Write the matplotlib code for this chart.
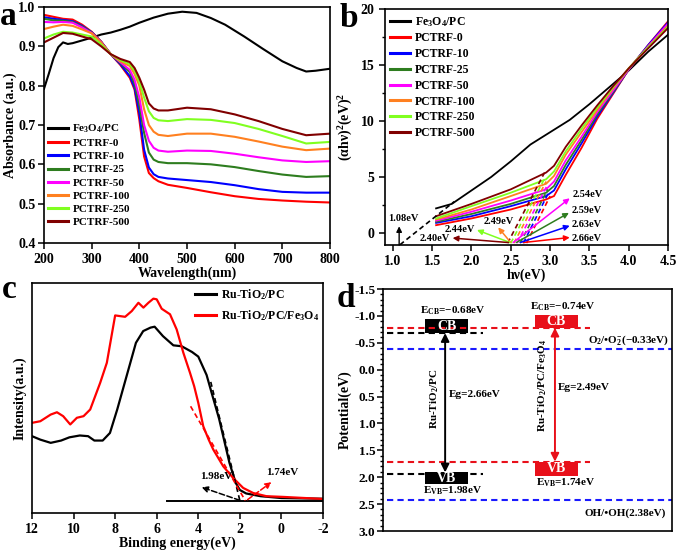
import numpy as np
import matplotlib
matplotlib.use("Agg")
import matplotlib.pyplot as plt
from matplotlib.ticker import AutoMinorLocator, MultipleLocator

plt.rcParams['font.family'] = ['Liberation Serif', 'DejaVu Serif']
plt.rcParams['font.weight'] = 'bold'
plt.rcParams['axes.labelweight'] = 'bold'
plt.rcParams['axes.unicode_minus'] = False
plt.rcParams['mathtext.fontset'] = 'custom'
plt.rcParams['mathtext.rm'] = 'Liberation Serif:bold'
plt.rcParams['mathtext.it'] = 'Liberation Serif:italic:bold'
plt.rcParams['mathtext.bf'] = 'Liberation Serif:bold'
plt.rcParams['xtick.labelsize'] = 10
plt.rcParams['ytick.labelsize'] = 10
plt.rcParams['axes.linewidth'] = 1.2

# ---------------- data: panel a (UV-vis) ----------------
sample_names = ['PCTRF-0', 'PCTRF-10', 'PCTRF-25', 'PCTRF-50',
                'PCTRF-100', 'PCTRF-250', 'PCTRF-500']
sample_colors = ['#ff0000', '#0000ff', '#2e7d1f', '#ff00ff',
                 '#ff8020', '#80ff20', '#800000']

fe_wl = [200, 210, 220, 230, 240, 250, 260, 280, 300, 320, 340, 360, 380, 400,
         430, 460, 490, 520, 550, 580, 620, 660, 700, 730, 750, 770, 800]
fe_abs = [0.792, 0.830, 0.870, 0.898, 0.910, 0.906, 0.908, 0.915, 0.922, 0.930,
          0.935, 0.942, 0.950, 0.960, 0.973, 0.983, 0.988, 0.985, 0.972, 0.955,
          0.925, 0.893, 0.862, 0.845, 0.836, 0.838, 0.843]

wl = [200, 220, 240, 260, 280, 300, 320, 340, 360, 380, 390, 400, 410, 420,
      430, 440, 460, 500, 550, 600, 650, 700, 750, 800]
abs_0 = [0.980, 0.975, 0.970, 0.968, 0.955, 0.937, 0.912, 0.880, 0.853, 0.820, 0.790, 0.714,
         0.620, 0.578, 0.565, 0.557, 0.548, 0.540, 0.529, 0.519, 0.512, 0.508, 0.505, 0.503]
abs_10 = [0.974, 0.970, 0.967, 0.964, 0.952, 0.936, 0.911, 0.880, 0.855, 0.824, 0.795, 0.730,
          0.637, 0.592, 0.575, 0.568, 0.564, 0.560, 0.555, 0.547, 0.537, 0.530, 0.528, 0.528]
abs_25 = [0.970, 0.966, 0.965, 0.962, 0.950, 0.935, 0.911, 0.880, 0.858, 0.835, 0.805, 0.750,
          0.680, 0.630, 0.612, 0.606, 0.603, 0.603, 0.600, 0.593, 0.583, 0.574, 0.568, 0.570]
abs_50 = [0.962, 0.961, 0.962, 0.960, 0.948, 0.934, 0.910, 0.880, 0.860, 0.840, 0.815, 0.770,
          0.700, 0.660, 0.642, 0.635, 0.632, 0.635, 0.634, 0.627, 0.618, 0.610, 0.606, 0.608]
abs_100 = [0.944, 0.950, 0.955, 0.952, 0.943, 0.933, 0.909, 0.880, 0.862, 0.850, 0.830, 0.800,
           0.740, 0.700, 0.683, 0.675, 0.672, 0.678, 0.678, 0.670, 0.658, 0.645, 0.636, 0.640]
abs_250 = [0.920, 0.930, 0.937, 0.935, 0.930, 0.925, 0.905, 0.880, 0.865, 0.855, 0.838, 0.810,
           0.770, 0.735, 0.718, 0.712, 0.710, 0.715, 0.713, 0.705, 0.690, 0.672, 0.653, 0.657]
abs_500 = [0.910, 0.922, 0.934, 0.932, 0.925, 0.918, 0.900, 0.880, 0.868, 0.860, 0.845, 0.820,
           0.790, 0.755, 0.742, 0.737, 0.737, 0.744, 0.740, 0.727, 0.710, 0.690, 0.674, 0.678]
abs_curves = [abs_0, abs_10, abs_25, abs_50, abs_100, abs_250, abs_500]

# ---------------- data: panel b (Tauc plot) ----------------
fe_hv = [1.55, 1.75, 2.0, 2.25, 2.5, 2.75, 3.0, 3.25, 3.5, 3.75, 4.0, 4.25, 4.5]
fe_tauc = [2.2, 2.6, 3.8, 5.0, 6.4, 7.9, 9.0, 10.1, 11.5, 13.0, 14.5, 16.2, 17.7]

hv = [1.55, 2.0, 2.5, 2.95, 3.05, 3.2, 3.4, 3.6, 3.8, 4.0, 4.25, 4.5]
tauc_0 = [0.7, 1.3, 2.1, 3.0, 3.3, 5.2, 7.6, 10.2, 12.4, 14.6, 16.8, 18.9]
tauc_10 = [0.9, 1.5, 2.4, 3.3, 3.8, 5.7, 8.0, 10.4, 12.5, 14.6, 16.8, 18.8]
tauc_25 = [1.0, 1.7, 2.6, 3.6, 4.2, 6.1, 8.3, 10.6, 12.6, 14.6, 16.7, 18.6]
tauc_50 = [1.1, 1.9, 2.9, 3.9, 4.6, 6.5, 8.6, 10.8, 12.7, 14.6, 16.7, 18.7]
tauc_100 = [1.2, 2.1, 3.3, 4.4, 5.1, 7.0, 9.0, 11.0, 12.9, 14.7, 16.6, 18.5]
tauc_250 = [1.3, 2.4, 3.6, 4.8, 5.5, 7.3, 9.3, 11.2, 13.0, 14.7, 16.6, 18.4]
tauc_500 = [1.5, 2.6, 3.9, 5.4, 6.0, 7.7, 9.6, 11.4, 13.1, 14.7, 16.5, 18.3]
tauc_curves = [tauc_0, tauc_10, tauc_25, tauc_50, tauc_100, tauc_250, tauc_500]

# extrapolated tangents (bottom x, top x, top y)
tan_x0 = [2.70, 2.66, 2.62, 2.58, 2.54, 2.50, 2.46]
tan_x1 = [3.00, 2.98, 2.97, 2.96, 2.95, 2.94, 2.93]
tan_y1 = [3.3, 3.6, 3.9, 4.2, 4.6, 5.0, 5.4]
fe_tan_x = [1.09, 1.78]
fe_tan_y = [-1.05, 2.8]

gap_labels = ['2.66eV', '2.63eV', '2.59eV', '2.54eV', '2.49eV', '2.44eV', '2.40eV']
arrow_from_x = [2.66, 2.62, 2.57, 2.53, 2.50, 2.49, 2.47]
arrow_tip_x = [3.25, 3.25, 3.24, 3.25, 2.34, 2.07, 1.76]
arrow_tip_y = [-0.40, 0.65, 1.80, 3.10, 0.50, 0.27, -0.45]
label_x = [3.27, 3.27, 3.28, 3.29, 2.35, 2.05, 1.72]
label_y = [-0.45, 0.80, 2.00, 3.40, 1.05, 0.27, -0.45]

# ---------------- data: panel c (VB-XPS) ----------------
c_black_x = [12, 11.6, 11.1, 10.6, 10.2, 9.7, 9.3, 9.0, 8.6, 8.25, 7.9, 7.45, 7.0, 6.65, 6.3,
             6.1, 5.7, 5.2, 4.8, 4.3, 4.0, 3.6, 3.35, 3.0, 2.5, 2.2, 2.0, 1.7, 1.0, 0.0, -2]
c_black_y = [0.334, 0.319, 0.305, 0.315, 0.329, 0.337, 0.334, 0.315, 0.315, 0.348, 0.450,
             0.595, 0.740, 0.791, 0.806, 0.810, 0.769, 0.729, 0.725, 0.700, 0.680, 0.600,
             0.520, 0.410, 0.218, 0.131, 0.100, 0.085, 0.073, 0.065, 0.062]
c_red_x = [12, 11.6, 11.1, 10.8, 10.5, 10.16, 9.84, 9.52, 9.2, 8.72, 8.4, 8.0, 7.52, 7.2,
           6.88, 6.64, 6.4, 6.16, 6.0, 5.76, 5.36, 5.04, 4.72, 4.4, 4.2, 4.0, 3.76, 3.5,
           3.28, 2.8, 2.32, 1.84, 1.36, 0.72, -0.08, -2]
c_red_y = [0.392, 0.399, 0.428, 0.438, 0.421, 0.385, 0.414, 0.421, 0.450, 0.566, 0.653,
           0.859, 0.853, 0.878, 0.914, 0.893, 0.914, 0.932, 0.929, 0.888, 0.864, 0.798,
           0.697, 0.610, 0.552, 0.479, 0.377, 0.319, 0.276, 0.203, 0.152, 0.109, 0.087,
           0.073, 0.070, 0.061]
c_base_x = [5.52, -2]
c_base_y = [0.054, 0.054]
c_tan_black_x = [3.4, 2.0]
c_tan_black_y = [0.57, 0.054]
c_tan_red_x = [4.37, 1.74]
c_tan_red_y = [0.464, 0.054]

# ---------------- data: panel d (band structure) ----------------
band_x = [2.2, 6.0]
band_colors = ['black', '#e8101a']
cb_top = [-0.94, -1.01]
cb_bot = [-0.68, -0.78]
vb_top = [1.91, 1.71]
vb_bot = [2.13, 1.97]
cb_level = [-0.68, -0.77]
vb_level = [1.94, 1.71]
level_x_end = [3.46, 7.16]
redox_levels = [-0.39, 2.42]
ecb_labels = [r'E$_{\rm CB}$=$-$0.68eV', r'E$_{\rm CB}$=$-$0.74eV']
evb_labels = [r'E$_{\rm VB}$=1.98eV', r'E$_{\rm VB}$=1.74eV']
eg_labels = ['Eg=2.66eV', 'Eg=2.49eV']
mat_labels = [r'Ru-TiO$_2$/PC', r'Ru-TiO$_2$/PC/Fe$_3$O$_4$']

W, H = 680, 552
fig = plt.figure(figsize=(W / 100, H / 100), dpi=100)


def px_axes(left, top, right, bottom):
    return fig.add_axes([left / W, 1 - bottom / H, (right - left) / W, (bottom - top) / H])


tick_kw = dict(direction='out', width=1.1, length=4)

# ================= panel a =================
ax = px_axes(44, 7, 330, 243)
ax.plot(fe_wl, fe_abs, color='black', lw=1.5, label=r'Fe$_3$O$_4$/PC')
for name, col, y in zip(sample_names, sample_colors, abs_curves):
    ax.plot(wl, y, color=col, lw=1.5, label=name)
ax.set_xlim(200, 800)
ax.set_ylim(0.4, 1.0)
ax.set_xticks(range(200, 801, 100))
ax.set_yticks(np.arange(0.4, 1.01, 0.1))
ax.yaxis.set_major_formatter(plt.FormatStrFormatter('%.1f'))
ax.tick_params(**tick_kw)
ax.tick_params(axis='y', pad=2)
ax.set_xlabel('Wavelength(nm)', fontsize=10, labelpad=0)
ax.set_ylabel('Absorbance (a.u.)', fontsize=10, labelpad=1)
ax.legend(loc='upper left', bbox_to_anchor=(0.014, 0.51), frameon=False, fontsize=8,
          handlelength=1.8, handletextpad=0.4, labelspacing=0.3, borderpad=0,
          borderaxespad=0)
for lh in ax.get_legend().get_lines():
    lh.set_linewidth(2.2)

# ================= panel b =================
ax = px_axes(385, 9, 668, 245)
ax.plot(fe_hv, fe_tauc, color='black', lw=1.3, label=r'Fe$_3$O$_4$/PC')
for name, col, y in zip(sample_names, sample_colors, tauc_curves):
    ax.plot(hv, y, color=col, lw=1.3, label=name)
ax.plot(fe_tan_x, fe_tan_y, color='black', lw=1.2, ls=(0, (3, 2)))
for i, col in enumerate(sample_colors):
    ax.plot([tan_x0[i], tan_x1[i]], [-0.9, tan_y1[i]], color=col, lw=1.2, ls=(0, (3, 2)))
    ax.annotate('', xy=(arrow_tip_x[i], arrow_tip_y[i]), xytext=(arrow_from_x[i], -0.85),
                arrowprops=dict(arrowstyle='-|>', color=col, lw=1.1, mutation_scale=8,
                                shrinkA=0, shrinkB=0))
    if arrow_tip_x[i] > 3:
        ha = 'left'
    elif i == 4:
        ha = 'center'
    else:
        ha = 'right'
    ax.text(label_x[i], label_y[i], gap_labels[i], fontsize=7.5, ha=ha, va='center')
ax.annotate('', xy=(1.08, 0.6), xytext=(1.08, -1.07),
            arrowprops=dict(arrowstyle='-|>', color='black', lw=1.0, mutation_scale=8,
                            shrinkA=0, shrinkB=0))
ax.text(1.13, 1.3, '1.08eV', fontsize=7.5, ha='center', va='center')
ax.set_xlim(0.9, 4.5)
ax.set_ylim(-1.07, 20)
ax.set_xticks(np.arange(1.0, 4.51, 0.5))
ax.set_yticks([0, 5, 10, 15, 20])
ax.xaxis.set_major_formatter(plt.FormatStrFormatter('%.1f'))
ax.yaxis.set_minor_locator(MultipleLocator(2.5))
ax.tick_params(**tick_kw)
ax.tick_params(which='minor', direction='out', width=1.0, length=2.5)
ax.set_xlabel('hν(eV)', fontsize=10, labelpad=0)
ax.set_ylabel('(αhν)$^{2}$(eV)$^{2}$', fontsize=10, labelpad=4)
ax.legend(loc='upper left', bbox_to_anchor=(0.018, 0.975), frameon=False, fontsize=8.5,
          handlelength=1.7, handletextpad=0.4, labelspacing=0.32, borderpad=0,
          borderaxespad=0)
for lh in ax.get_legend().get_lines():
    lh.set_linewidth(2.2)

# ================= panel c =================
ax = px_axes(32, 283, 323, 513)
ax.plot(c_black_x, c_black_y, color='black', lw=1.6, label=r'Ru-TiO$_2$/PC')
ax.plot(c_red_x, c_red_y, color='#ff0000', lw=1.6, label=r'Ru-TiO$_2$/PC/Fe$_3$O$_4$')
ax.plot(c_base_x, c_base_y, color='black', lw=1.4)
ax.plot(c_tan_black_x, c_tan_black_y, color='black', lw=1.2, ls=(0, (3, 2)))
ax.plot(c_tan_red_x, c_tan_red_y, color='#ff0000', lw=1.2, ls=(0, (3, 2)))
ax.annotate('', xy=(3.84, 0.112), xytext=(2.0, 0.055),
            arrowprops=dict(arrowstyle='-|>', color='black', lw=1.1, ls='--',
                            mutation_scale=9, shrinkA=0, shrinkB=0))
ax.annotate('', xy=(0.48, 0.134), xytext=(1.63, 0.058),
            arrowprops=dict(arrowstyle='-|>', color='#ff0000', lw=1.1, ls='--',
                            mutation_scale=9, shrinkA=0, shrinkB=0))
ax.text(3.15, 0.158, '1.98eV', fontsize=8, ha='center', va='center')
ax.text(-0.05, 0.175, '1.74eV', fontsize=8, ha='center', va='center')
ax.set_xlim(12, -2)
ax.set_ylim(0, 1)
ax.set_xticks(range(12, -3, -2))
ax.set_yticks([])
ax.tick_params(**tick_kw)
ax.set_xlabel('Binding energy(eV)', fontsize=10, labelpad=0)
ax.set_ylabel('Intensity(a.u.)', fontsize=10, labelpad=4)
ax.legend(loc='upper left', bbox_to_anchor=(0.56, 0.98), frameon=False, fontsize=8.5,
          handlelength=1.8, handletextpad=0.4, labelspacing=0.45, borderpad=0,
          borderaxespad=0)
for lh in ax.get_legend().get_lines():
    lh.set_linewidth(2.2)

# ================= panel d =================
ax = px_axes(383, 289, 672, 531)
for i, col in enumerate(band_colors):
    ax.plot([0.14, level_x_end[i]], [cb_level[i], cb_level[i]], color=col, lw=1.5,
            ls=(0, (3, 2)))
    ax.plot([0.14, level_x_end[i]], [vb_level[i], vb_level[i]], color=col, lw=1.5,
            ls=(0, (3, 2)))
for lv in redox_levels:
    ax.plot([0.14, 10], [lv, lv], color='#1a1aff', lw=1.5, ls=(0, (3, 2)))
ax.bar(band_x, np.subtract(cb_bot, cb_top), bottom=cb_top, width=1.5, color=band_colors)
ax.bar(band_x, np.subtract(vb_bot, vb_top), bottom=vb_top, width=1.5, color=band_colors)
for i, col in enumerate(band_colors):
    ax.text(band_x[i], (cb_top[i] + cb_bot[i]) / 2, 'CB', color='white', fontsize=10,
            ha='center', va='center')
    ax.text(band_x[i], (vb_top[i] + vb_bot[i]) / 2, 'VB', color='white', fontsize=10,
            ha='center', va='center')
    ax.annotate('', xy=(band_x[i] - 0.05, vb_top[i]), xytext=(band_x[i] - 0.05, cb_bot[i]),
                arrowprops=dict(arrowstyle='<|-|>', color=col, lw=1.4, mutation_scale=12,
                                shrinkA=0, shrinkB=0))
ax.text(2.42, -1.10, ecb_labels[0], fontsize=8, ha='center', va='center')
ax.text(6.23, -1.17, ecb_labels[1], fontsize=8, ha='center', va='center')
ax.text(2.42, 2.25, evb_labels[0], fontsize=8, ha='center', va='center')
ax.text(6.33, 2.11, evb_labels[1], fontsize=8, ha='center', va='center')
ax.text(2.28, 0.46, eg_labels[0], fontsize=8, ha='left', va='center')
ax.text(6.05, 0.33, eg_labels[1], fontsize=8, ha='left', va='center')
ax.text(1.8, 0.55, mat_labels[0], fontsize=8, ha='center', va='center', rotation=90)
ax.text(5.54, 0.30, mat_labels[1], fontsize=8, ha='center', va='center', rotation=90)
ax.text(9.9, -0.56, r'O$_2$/•O$^{-}_{2}$($-$0.33eV)', fontsize=8, ha='right', va='center')
ax.text(9.8, 2.66, 'OH/•OH(2.38eV)', fontsize=8, ha='right', va='center')
ax.set_xlim(0, 10)
ax.set_ylim(3.0, -1.5)
ax.set_yticks(np.arange(-1.5, 3.01, 0.5))
ax.yaxis.set_major_formatter(plt.FormatStrFormatter('%.1f'))
ax.yaxis.set_minor_locator(AutoMinorLocator(5))
ax.set_xticks([])
ax.tick_params(**tick_kw)
ax.tick_params(axis='y', labelsize=9.5, pad=1.5)
ax.tick_params(which='minor', direction='out', width=1.0, length=2.5)
ax.set_ylabel('Potential(eV)', fontsize=10, labelpad=2)

# panel letters
for x, y, letter in [(0, 25, 'a'), (340, 27, 'b'), (2, 298, 'c'), (337, 307, 'd')]:
    fig.text(x / W, 1 - y / H, letter, fontsize=24, fontweight='bold', va='baseline')

fig.savefig('out.png', dpi=100)
